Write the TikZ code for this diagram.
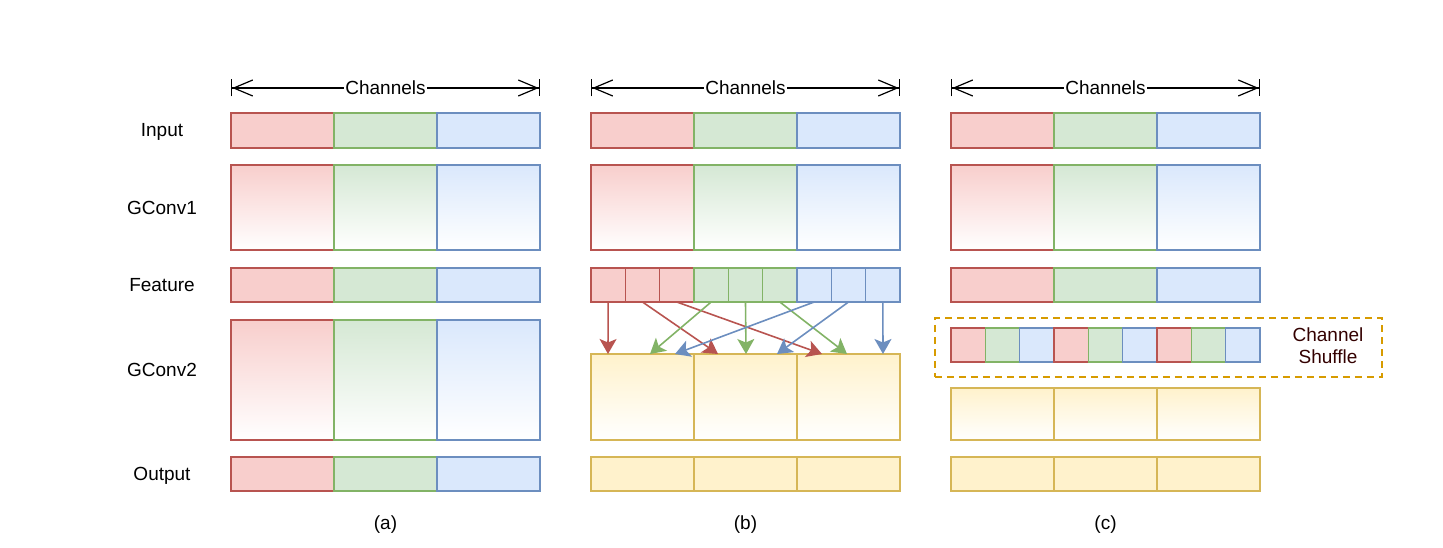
\documentclass[tikz,border=0pt]{standalone}
\usepackage{fontspec}
\setmainfont{Liberation Sans}
\usetikzlibrary{arrows.meta}
\definecolor{rS}{HTML}{B85450}\definecolor{rF}{HTML}{F8CECC}
\definecolor{gS}{HTML}{82B366}\definecolor{gF}{HTML}{D5E8D4}
\definecolor{bS}{HTML}{6C8EBF}\definecolor{bF}{HTML}{DAE8FC}
\definecolor{yS}{HTML}{D6B656}\definecolor{yF}{HTML}{FFF2CC}
\definecolor{oS}{HTML}{D79B00}\definecolor{txtdark}{HTML}{330000}
\begin{document}
\begin{tikzpicture}[x=1pt,y=-1pt,
  cell/.style={rectangle,inner sep=0pt,outer sep=0pt,line width=1.6pt,anchor=north west,minimum width=103pt},
  small/.style={cell,minimum width=34.33pt,minimum height=34pt},
  cr/.style={draw=rS,fill=rF}, cg/.style={draw=gS,fill=gF}, cb/.style={draw=bS,fill=bF}, cy/.style={draw=yS,fill=yF},
  gr/.style={draw=rS,top color=rF,bottom color=white},
  gg/.style={draw=gS,top color=gF,bottom color=white},
  gb/.style={draw=bS,top color=bF,bottom color=white},
  gy/.style={draw=yS,top color=yF,bottom color=white},
  lbl/.style={font=\fontsize{19}{22}\selectfont,inner sep=0pt,text height=13.6pt,text depth=0pt},
  conn/.style={line width=1.6pt,-{Stealth[length=15pt,width=17pt,inset=3.5pt]}},
  chan/.style={line width=1.2pt,{Bar[width=17pt,line width=1.2pt]Straight Barb[length=19pt,width=16pt,line width=1.2pt]}-{Straight Barb[length=19pt,width=16pt,line width=1.2pt]Bar[width=17pt,line width=1.2pt]}}
]
\useasboundingbox (0,0) rectangle (1443,548);
% row labels
\node[lbl] (lIn) at (162,130) {Input};
\node[lbl] (lG1) at (162,208) {GConv1};
\node[lbl] (lFe) at (162,285) {Feature};
\node[lbl] (lG2) at (162,370) {GConv2};
\node[lbl] (lOut) at (162,474) {Output};
% panel captions
\node[lbl] (capa) at (385.5,523) {(a)};
\node[lbl] (capb) at (745.5,523) {(b)};
\node[lbl] (capc) at (1105.5,523) {(c)};
% channels arrows
\foreach \px/\p in {231/a,591/b,951/c}{
  \coordinate (\p L) at (\px,88);
  \coordinate (\p R) at ({\px+309},88);
  \draw[chan] (\p L) -- (\p R);
  \node[lbl,fill=white,inner xsep=1pt] (\p chan) at ({\px+154.5},87.5) {Channels};
}
% input rows, gconv1 rows
\foreach \px/\p in {231/a,591/b,951/c}{
  \foreach \i/\c/\gc in {0/cr/gr,1/cg/gg,2/cb/gb}{
    \node[cell,\c,minimum height=35pt] (\p In\i) at ({\px+103*\i},113) {};
    \node[cell,\gc,minimum height=85pt] (\p Ga\i) at ({\px+103*\i},165) {};
  }
}
% feature rows (a) and (c)
\foreach \px/\p in {231/a,951/c}{
  \foreach \i/\c in {0/cr,1/cg,2/cb}{
    \node[cell,\c,minimum height=34pt] (\p Fe\i) at ({\px+103*\i},268) {};
  }
}
% (a) gconv2 and output
\foreach \i/\c/\gc in {0/cr/gr,1/cg/gg,2/cb/gb}{
  \node[cell,\gc,minimum height=120pt] (aGb\i) at ({231+103*\i},320) {};
  \node[cell,\c,minimum height=34pt] (aOut\i) at ({231+103*\i},457) {};
}
% (b) and (c) yellow
\foreach \i in {0,1,2}{
  \node[cell,gy,minimum height=86pt] (bGb\i) at ({591+103*\i},354) {};
  \node[cell,cy,minimum height=34pt] (bOut\i) at ({591+103*\i},457) {};
  \node[cell,gy,minimum height=52pt] (cGb\i) at ({951+103*\i},388) {};
  \node[cell,cy,minimum height=34pt] (cOut\i) at ({951+103*\i},457) {};
}
% (b) feature split cells
\foreach \i/\c in {1/cr,2/cr,3/cr,4/cg,5/cg,6/cg,7/cb,8/cb,9/cb}{
  \node[small,\c] (bF\i) at ({591+34.333*(\i-1)},268) {};
}
% (c) shuffled cells
\foreach \i/\c in {1/cr,2/cg,3/cb,4/cr,5/cg,6/cb,7/cr,8/cg,9/cb}{
  \node[small,\c] (cS\i) at ({951+34.333*(\i-1)},328) {};
}
% dashed box
\node[rectangle,draw=oS,line width=1.5pt,dash pattern=on 7pt off 5pt,anchor=north west,
      minimum width=447pt,minimum height=59pt,inner sep=0pt] (shufbox) at (934,317) {};
\node[font=\fontsize{19}{22}\selectfont,text=txtdark,align=center,inner sep=0pt] (shuflbl) at (1328,346) {Channel\\Shuffle};
% targets
\coordinate (t1) at (608,354);
\coordinate (t2) at (718,354);
\coordinate (t3) at (822,354);
\coordinate (t4) at (650,354);
\coordinate (t5) at (746,354);
\coordinate (t6) at (847,354);
\coordinate (t7) at (675,354);
\coordinate (t8) at (777,354);
\coordinate (t9) at (883,354);
\foreach \i/\c in {1/rS,2/rS,3/rS,4/gS,5/gS,6/gS,7/bS,8/bS,9/bS}{
  \draw[conn,draw=\c,fill=\c] (bF\i.south) -- (t\i);
}
\end{tikzpicture}
\end{document}
